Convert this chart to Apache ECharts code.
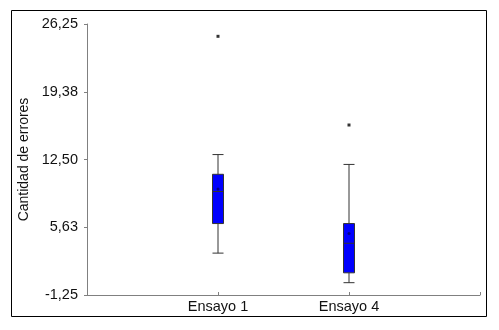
<!DOCTYPE html>
<html><head><meta charset="utf-8">
<script src="https://cdn.jsdelivr.net/npm/echarts@6/dist/echarts.min.js"></script>
<style>html,body{margin:0;padding:0;background:#fff}#c{width:499px;height:330px}</style>
</head><body><div id="c"></div>
<script>
var axisCategories = ['', 'Ensayo 1', 'Ensayo 4', ''];
var categories = ['Ensayo 1', 'Ensayo 4'];
var mins = [3, 0];
var q1s = [6, 1];
var medians = [9.25, 4];
var q3s = [11, 6];
var maxs = [13, 12];
var means = [9.5, 5];
var outliers = [25, 16];
var yTicks = [-1.25, 5.625, 12.5, 19.375, 26.25];

var font = "'Liberation Sans', Arial, sans-serif";
var chart = echarts.init(document.getElementById('c'));
var boxData = categories.map(function (c, i) {
  return [c, mins[i], q1s[i], medians[i], q3s[i], maxs[i]];
});
chart.setOption({
  animation: false,
  graphic: [{type: 'rect', shape: {x: 11.5, y: 10.5, width: 475, height: 306},
    style: {fill: 'none', stroke: '#000', lineWidth: 1}, silent: true}],
  grid: {left: 87, top: 24, right: 19, bottom: 35},
  xAxis: {
    type: 'category', data: axisCategories, boundaryGap: false,
    axisLine: {onZero: false, lineStyle: {color: '#808080'}},
    axisTick: {inside: true, length: 3, lineStyle: {color: '#808080'}},
    axisLabel: {color: '#111', fontFamily: font, fontSize: 14.5, margin: 4, interval: 0},
    splitLine: {show: false}
  },
  yAxis: {
    type: 'value', min: -1.25, max: 26.25,
    name: 'Cantidad de errores', nameLocation: 'middle', nameGap: 48,
    nameTextStyle: {color: '#111', fontFamily: font, fontSize: 14},
    axisLine: {show: true, lineStyle: {color: '#808080'}},
    axisTick: {show: true, length: 3, customValues: yTicks, lineStyle: {color: '#808080'}},
    axisLabel: {color: '#111', fontFamily: font, fontSize: 14.5, margin: 9, customValues: yTicks,
      formatter: function (v) { return v.toFixed(2).replace('.', ','); }},
    splitLine: {show: false}
  },
  series: [
    {type: 'boxplot', data: boxData, encode: {x: 0, y: [1, 2, 3, 4, 5]},
      boxWidth: [11, 11],
      itemStyle: {color: '#0000ff', borderColor: '#333', borderWidth: 1}},
    {type: 'scatter', data: categories.map(function (c, i) { return [c, outliers[i]]; }),
      symbol: 'rect', symbolSize: 3, itemStyle: {color: '#000'}},
    {type: 'scatter', data: categories.map(function (c, i) { return [c, means[i]]; }),
      symbol: 'circle', symbolSize: 3, itemStyle: {color: '#000066'}}
  ]
});
</script></body></html>
